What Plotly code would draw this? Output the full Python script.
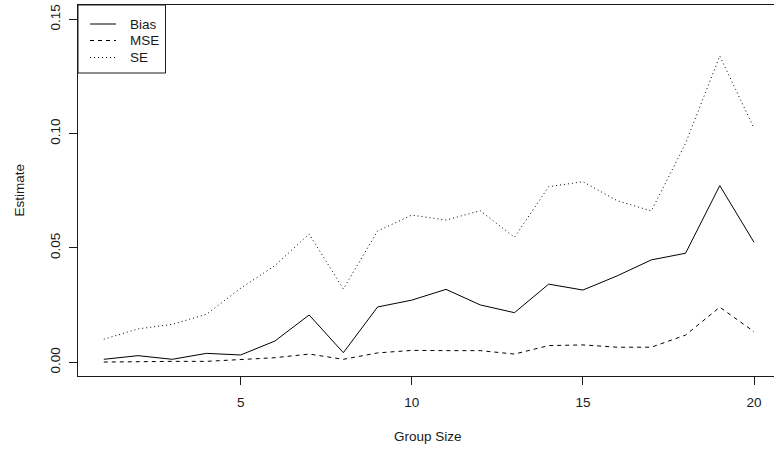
import plotly.graph_objects as go

group_size = list(range(1, 21))
bias = [0.0013, 0.0029, 0.0013, 0.0039, 0.0032, 0.0093, 0.0207, 0.0042, 0.0242, 0.0272,
        0.0319, 0.0251, 0.0217, 0.0342, 0.0316, 0.0378, 0.0448, 0.0477, 0.0773, 0.0525]
mse = [0.0001, 0.0004, 0.0004, 0.0004, 0.0011, 0.0020, 0.0036, 0.0013, 0.0041, 0.0052,
       0.0051, 0.0051, 0.0036, 0.0073, 0.0076, 0.0066, 0.0066, 0.0119, 0.0241, 0.0134]
se = [0.0101, 0.0146, 0.0166, 0.0210, 0.0324, 0.0423, 0.0561, 0.0321, 0.0574, 0.0644,
      0.0622, 0.0663, 0.0547, 0.0768, 0.0790, 0.0707, 0.0662, 0.0958, 0.1340, 0.1024]
series_names = ["Bias", "MSE", "SE"]
x_ticks = [5, 10, 15, 20]
y_ticks = [0.00, 0.05, 0.10, 0.15]
y_tick_text = ["0.00", "0.05", "0.10", "0.15"]

W, H = 774, 449
L, T, R, B = 78, 5, 0, 73
PW, PH = W - L - R, H - T - B

FONT = "Liberation Sans, Arial, sans-serif"
FS = 13.5
INK = "#1a1a1a"
dashes = ["solid", "4px,4px", "1px,3px"]

fig = go.Figure()
for name, vals, d in zip(series_names, [bias, mse, se], dashes):
    fig.add_trace(go.Scatter(x=group_size, y=vals, mode="lines", name=name,
                             line=dict(color="black", width=1, dash=d),
                             showlegend=False, hoverinfo="skip"))

def px_x(p):
    return (p - L) / PW

def px_y(p):
    return (H - B - p) / PH

shapes = [dict(type="rect", xref="paper", yref="paper",
               x0=px_x(78), x1=px_x(165.5), y0=px_y(73), y1=px_y(5),
               line=dict(color=INK, width=1), fillcolor="white")]
annotations = []
row_y = [24, 40.5, 57.5]
for name, d, ry in zip(series_names, dashes, row_y):
    shapes.append(dict(type="line", xref="paper", yref="paper",
                       x0=px_x(90), x1=px_x(116), y0=px_y(ry), y1=px_y(ry),
                       line=dict(color="black", width=1, dash=d)))
    annotations.append(dict(xref="paper", yref="paper", x=px_x(128), y=px_y(ry),
                            text=name, showarrow=False, xanchor="left", yanchor="middle",
                            font=dict(family=FONT, size=FS, color=INK)))

# axis titles as annotations placed at pixel positions
annotations.append(dict(xref="paper", yref="paper", x=px_x(428), y=px_y(436),
                        text="Group Size", showarrow=False, xanchor="center", yanchor="middle",
                        font=dict(family=FONT, size=FS, color=INK)))
annotations.append(dict(xref="paper", yref="paper", x=px_x(19), y=px_y(190.5),
                        text="Estimate", showarrow=False, textangle=-90,
                        xanchor="center", yanchor="middle",
                        font=dict(family=FONT, size=FS, color=INK)))

fig.update_layout(
    width=W, height=H,
    margin=dict(l=L, r=R, t=T, b=B, pad=0, autoexpand=False),
    paper_bgcolor="white", plot_bgcolor="white",
    font=dict(family=FONT, size=FS, color=INK),
    shapes=shapes, annotations=annotations,
    xaxis=dict(range=[0.246, 20.584], tickvals=x_ticks, ticks="outside", ticklen=8,
               tickcolor=INK, showline=True, linecolor=INK, linewidth=1, mirror=True,
               showgrid=False, zeroline=False, automargin=False,
               ticklabelstandoff=6, tickfont=dict(size=FS)),
    yaxis=dict(range=[-0.006, 0.1563], tickvals=y_ticks, ticktext=y_tick_text,
               tickangle=-90, ticks="outside", ticklen=8, tickcolor=INK,
               showline=True, linecolor=INK, linewidth=1,
               showgrid=False, zeroline=False, automargin=False,
               ticklabelstandoff=4, tickfont=dict(size=FS)),
)

fig.write_html("out.html", config={"displayModeBar": False},
               post_script="document.body.style.margin='0';document.body.style.padding='0';")
